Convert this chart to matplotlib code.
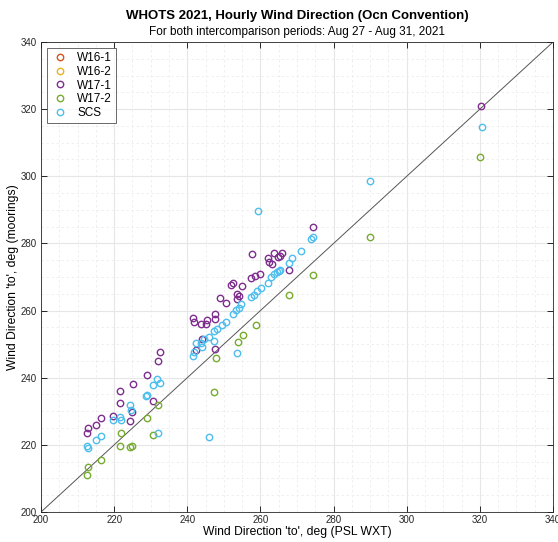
import numpy as np
import matplotlib.pyplot as plt
from matplotlib.ticker import MultipleLocator

plt.rcParams['font.family'] = ['Liberation Sans', 'DejaVu Sans']

# hourly wind direction 'to' (deg): PSL WXT on x, mooring on y
w17_1_x = [228.9, 225.1, 221.7, 221.6, 230.5, 216.4, 219.7, 215.1, 212.9, 212.6,
           224.3, 225.0, 232.0, 232.5, 244.1, 242.4, 247.5, 241.5, 241.8, 243.8,
           245.1, 245.5, 247.6, 247.5, 249.0, 250.6, 253.7, 254.1, 253.5, 252.4,
           251.9, 255.0, 257.3, 258.6, 260.0, 257.7, 262.0, 262.4, 263.1, 263.8,
           265.4, 266.0, 264.7, 267.8, 274.3, 320.3]
w17_1_y = [240.9, 238.0, 236.1, 232.6, 233.0, 228.0, 228.5, 226.0, 225.0, 223.6,
           227.1, 229.9, 245.0, 247.7, 251.5, 248.2, 248.6, 257.7, 256.5, 256.0,
           256.0, 257.2, 258.9, 257.6, 263.6, 262.2, 264.8, 264.4, 263.3, 268.1,
           267.6, 267.3, 269.6, 270.2, 270.9, 276.8, 275.7, 274.5, 273.9, 277.2,
           276.3, 277.2, 276.0, 272.0, 284.9, 320.8]

w17_2_x = [232.0, 229.0, 221.8, 230.5, 221.7, 224.2, 224.9, 216.4, 212.9, 212.6,
           247.4, 258.7, 255.1, 253.8, 247.8, 274.3, 267.8, 289.9, 319.9]
w17_2_y = [231.9, 228.0, 223.4, 222.9, 219.6, 219.3, 219.7, 215.5, 213.4, 210.9,
           235.8, 255.7, 252.8, 250.7, 245.8, 270.7, 264.5, 281.9, 305.7]

scs_x = [274.4, 273.8, 271.1, 268.7, 267.7, 265.4, 265.1, 264.6, 263.8, 262.8,
         262.1, 260.1, 259.0, 258.2, 257.5, 254.8, 254.0, 253.3, 252.5, 250.6,
         249.5, 248.0, 247.4, 245.8, 244.5, 243.8, 242.4, 244.1, 247.4, 241.8,
         241.5, 253.7, 231.8, 232.4, 230.5, 228.7, 229.0, 224.3, 224.7, 221.7,
         221.8, 219.6, 216.4, 215.1, 212.7, 212.9, 232.0, 245.8, 259.3, 289.9,
         320.6]
scs_y = [281.9, 281.3, 277.6, 275.7, 274.2, 272.2, 271.8, 271.5, 271.0, 269.9,
         268.2, 266.8, 265.9, 264.7, 263.9, 262.0, 260.9, 260.1, 258.9, 256.6,
         255.7, 254.6, 253.9, 252.1, 251.6, 250.4, 250.3, 249.0, 251.0, 247.6,
         246.4, 247.4, 239.6, 238.5, 237.7, 234.5, 234.9, 231.8, 230.4, 228.4,
         227.3, 227.3, 222.5, 221.4, 219.6, 219.0, 223.4, 222.4, 289.6, 298.6,
         314.6]

lims = [200, 340]

fig = plt.figure(figsize=(5.58, 5.42), dpi=100)
ax = fig.add_axes([0.0735, 0.0554, 0.9176, 0.8671])

mk = dict(marker='o', linestyle='none', markersize=4.6, markerfacecolor='none',
          markeredgewidth=1.0)
ax.plot([], [], color='#D95319', label='W16-1', **mk)
ax.plot([], [], color='#EDB120', label='W16-2', **mk)
ax.plot(w17_1_x, w17_1_y, color='#7E2F8E', label='W17-1', **mk)
ax.plot(w17_2_x, w17_2_y, color='#77AC30', label='W17-2', **mk)
ax.plot(scs_x, scs_y, color='#4DBEEE', label='SCS', **mk)
ax.plot(lims, lims, color='#555555', linewidth=0.7, zorder=1)

ax.set_xlim(lims)
ax.set_ylim(lims)
ax.xaxis.set_major_locator(MultipleLocator(20))
ax.yaxis.set_major_locator(MultipleLocator(20))
ax.xaxis.set_minor_locator(MultipleLocator(5))
ax.yaxis.set_minor_locator(MultipleLocator(5))
ax.grid(which='major', color='#e6e6e6', linewidth=0.8)
ax.grid(which='minor', color='#ececec', linewidth=0.6, linestyle=(0, (3, 3)))
ax.set_axisbelow(True)
ax.tick_params(which='major', direction='in', length=4, width=0.7,
               top=True, right=True, labelsize=7, colors='#262626', pad=2)
ax.tick_params(axis='y', which='major', pad=3)
ax.tick_params(which='minor', length=0, top=True, right=True)
for s in ax.spines.values():
    s.set_color('#262626')
    s.set_linewidth(0.6)

ax.set_xlabel("Wind Direction 'to', deg (PSL WXT)", fontsize=8.7, labelpad=1)
ax.set_ylabel("Wind Direction 'to', deg (moorings)", fontsize=8.7, labelpad=1)

ax.text(0.5, 1.055, 'WHOTS 2021, Hourly Wind Direction (Ocn Convention)',
        transform=ax.transAxes, ha='center', va='center', fontsize=9.5,
        fontweight='bold')
ax.text(0.5, 1.022, 'For both intercomparison periods: Aug 27 - Aug 31, 2021',
        transform=ax.transAxes, ha='center', va='center', fontsize=8.5)

leg = ax.legend(loc='upper left', fontsize=8.5, frameon=True, fancybox=False,
                borderaxespad=0.5, handletextpad=0.6, labelspacing=0.15,
                handlelength=1.6, borderpad=0.35)
leg.get_frame().set_edgecolor('#262626')
leg.get_frame().set_linewidth(0.6)

plt.savefig('out.png', dpi=100)
